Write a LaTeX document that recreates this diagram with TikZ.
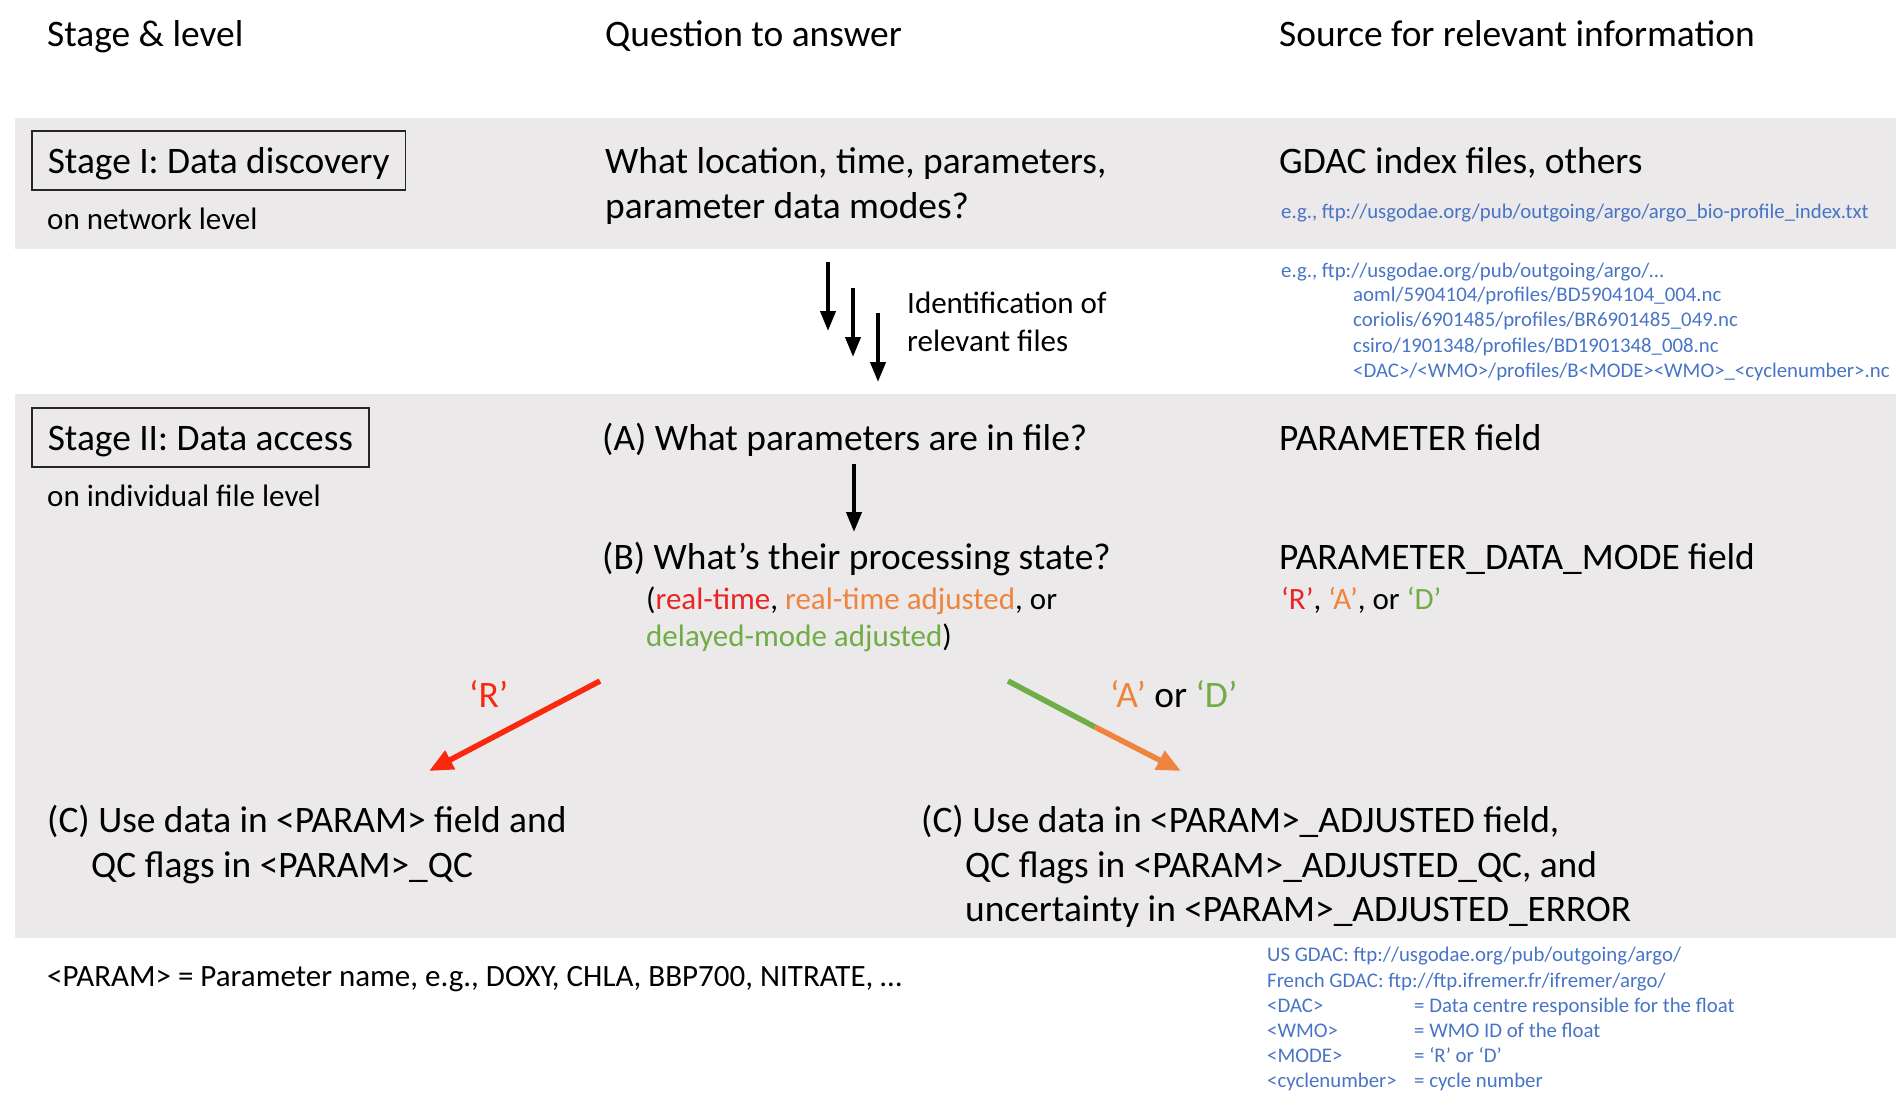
\documentclass[tikz,border=0pt]{standalone}
\usepackage{fontspec}
\setmainfont{Carlito}
\usetikzlibrary{arrows.meta}
\definecolor{band}{RGB}{235,233,234}
\definecolor{linkblue}{RGB}{72,116,198}
\definecolor{rtred}{RGB}{235,35,35}
\definecolor{arrred}{RGB}{250,40,15}
\definecolor{adjorange}{RGB}{238,132,62}
\definecolor{dmgreen}{RGB}{112,173,71}

\begin{document}
\begin{tikzpicture}[x=1pt,y=-1pt,
  big/.style={anchor=base west,inner sep=0pt,font=\fontsize{37.4}{45}\selectfont},
  mid/.style={anchor=base west,inner sep=0pt,font=\fontsize{31}{38}\selectfont},
  small/.style={anchor=base west,inner sep=0pt,text=linkblue,font=\fontsize{20.8}{25}\selectfont},
  stagebox/.style={big,draw=black!85,line width=1.6pt,inner xsep=16pt,inner ysep=0pt,
    text height=42pt,text depth=17pt},
  down/.style={-{Triangle[length=20pt,width=15pt]},line width=4pt},
  slant/.style={line width=5.5pt}]
 \useasboundingbox (0,0) rectangle (1896,1093);
 % grey bands
 \fill[band] (15,118) rectangle (1896,249);
 \fill[band] (15,394) rectangle (1896,938);
 % column heads
 \node[big] (hstage) at (47,46) {Stage \& level};
 \node[big] (hquest) at (605,46) {Question to answer};
 \node[big] (hsource) at (1279,46) {Source for relevant information};
 % stage I
 \node[stagebox] (s1) at (31,173) {Stage I: Data discovery};
 \node[mid] (s1lvl) at (47,229) {on network level};
 \node[big] (q1a) at (605,173) {What location, time, parameters,};
 \node[big] (q1b) at (605,218) {parameter data modes?};
 \node[big] (src1) at (1279,173) {GDAC index files, others};
 \node[small] (src1ex) at (1281,218) {e.g., ftp://usgodae.org/pub/outgoing/argo/argo\_bio-profile\_index.txt};
 % identification of files
 \coordinate (f1a) at (828,262); \coordinate (f1b) at (828,331);
 \coordinate (f2a) at (853,288); \coordinate (f2b) at (853,357);
 \coordinate (f3a) at (878,313); \coordinate (f3b) at (878,382);
 \draw[down] (f1a) -- (f1b);
 \draw[down] (f2a) -- (f2b);
 \draw[down] (f3a) -- (f3b);
 \node[mid] (ident1) at (907,313) {Identification of};
 \node[mid] (ident2) at (907,351) {relevant files};
 \node[small] (ex0) at (1281,277) {e.g., ftp://usgodae.org/pub/outgoing/argo/…};
 \node[small] (ex1) at (1353,301) {aoml/5904104/profiles/BD5904104\_004.nc};
 \node[small] (ex2) at (1353,326) {coriolis/6901485/profiles/BR6901485\_049.nc};
 \node[small] (ex3) at (1353,352) {csiro/1901348/profiles/BD1901348\_008.nc};
 \node[small] (ex4) at (1353,377) {<DAC>/<WMO>/profiles/B<MODE><WMO>\_<cyclenumber>.nc};
 % stage II
 \node[stagebox] (s2) at (31,450) {Stage II: Data access};
 \node[mid] (s2lvl) at (47,506) {on individual file level};
 \node[big] (qa) at (602,450) {(A) What parameters are in file?};
 \node[big] (srca) at (1279,450) {PARAMETER field};
 \coordinate (aout) at (854,464); \coordinate (bin) at (854,532);
 \draw[down] (aout) -- (bin);
 \node[big] (qb) at (602,569) {(B) What’s their processing state?};
 \node[mid] (qbc1) at (646,609) {(\textcolor{rtred}{real-time}, \textcolor{adjorange}{real-time adjusted}, or};
 \node[mid] (qbc2) at (646,646) {\textcolor{dmgreen}{delayed-mode adjusted})};
 \node[big] (srcb) at (1279,569) {PARAMETER\_DATA\_MODE field};
 \node[mid] (srcbc) at (1281,609) {\textcolor{rtred}{‘R’}, \textcolor{adjorange}{‘A’}, or \textcolor{dmgreen}{‘D’}};
 % branches
 \coordinate (rfrom) at (600,681); \coordinate (rto) at (429,771);
 \draw[slant,arrred,-{Triangle[length=24pt,width=20pt]}] (rfrom) -- (rto);
 \node[big,text=arrred] (labr) at (469,707) {‘R’};
 \coordinate (adfrom) at (1008,681); \coordinate (admid) at (1095,727); \coordinate (adto) at (1181,771);
 \draw[slant,dmgreen] (adfrom) -- (admid);
 \draw[slant,adjorange,-{Triangle[length=24pt,width=20pt]}] (admid) -- (adto);
 \node[big] (labad) at (1110,707) {\textcolor{adjorange}{‘A’} or \textcolor{dmgreen}{‘D’}};
 \node[big] (cl1) at (47,832) {(C) Use data in <PARAM> field and};
 \node[big] (cl2) at (91,877) {QC flags in <PARAM>\_QC};
 \node[big] (cr1) at (921,832) {(C) Use data in <PARAM>\_ADJUSTED field,};
 \node[big] (cr2) at (965,877) {QC flags in <PARAM>\_ADJUSTED\_QC, and};
 \node[big] (cr3) at (965,921) {uncertainty in <PARAM>\_ADJUSTED\_ERROR};
 % notes
 \node[mid] (pdef) at (47,986) {<PARAM> = Parameter name, e.g., DOXY, CHLA, BBP700, NITRATE, …};
 \node[small] (gus) at (1267,961) {US GDAC: ftp://usgodae.org/pub/outgoing/argo/};
 \node[small] (gfr) at (1267,987) {French GDAC: ftp://ftp.ifremer.fr/ifremer/argo/};
 \node[small] (kdac) at (1267,1012) {<DAC>};
 \node[small] (vdac) at (1414,1012) {= Data centre responsible for the float};
 \node[small] (kwmo) at (1267,1037) {<WMO>};
 \node[small] (vwmo) at (1414,1037) {= WMO ID of the float};
 \node[small] (kmode) at (1267,1062) {<MODE>};
 \node[small] (vmode) at (1414,1062) {= ‘R’ or ‘D’};
 \node[small] (kcyc) at (1267,1087) {<cyclenumber>};
 \node[small] (vcyc) at (1414,1087) {= cycle number};
\end{tikzpicture}
\end{document}
